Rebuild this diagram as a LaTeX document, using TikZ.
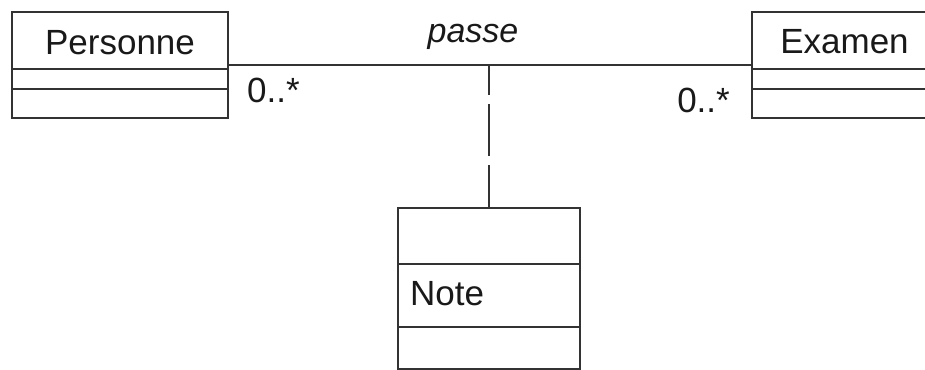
\documentclass[tikz,border=0pt]{standalone}
\usepackage{fontspec}
\setmainfont{Liberation Sans}
\begin{document}
\begin{tikzpicture}[x=1pt,y=-1pt,
  umlline/.style={draw=black!80,line width=1.6pt},
  classbox/.style={umlline,rectangle,inner sep=0pt,fill=white},
  label/.style={inner sep=0pt,text=black!90,font=\fontsize{35}{40}\selectfont},
  linkdash/.style={umlline,dash pattern=on 52pt off 9pt,dash phase=22pt}]
  \useasboundingbox (0,0) rectangle (925,369);
  \clip (0,0) rectangle (925,369);

  % class boxes
  \node[classbox,minimum width=216pt,minimum height=106pt] (personne) at (120,65) {};
  \node[classbox,minimum width=185pt,minimum height=106pt] (examen) at (844.5,65) {};
  \node[classbox,minimum width=182pt,minimum height=161pt,anchor=north] (note) at (489,207) {};

  % compartment dividers
  \draw[umlline] (12,69) -- (228,69) (12,89) -- (228,89);
  \draw[umlline] (752,69) -- (937,69) (752,89) -- (937,89);
  \draw[umlline] (398,264) -- (580,264) (398,327) -- (580,327);

  % class names
  \node[label,anchor=base] (tPersonne) at (120,55) {Personne};
  \node[label,anchor=base] (tExamen) at (844.5,54) {Examen};
  \node[label,anchor=base west] (tNote) at (410,305) {Note};

  % association with its association class
  \draw[umlline] (personne.east) -- (examen.west);
  \coordinate (assoc) at (489,65);
  \draw[linkdash] (assoc) -- (note.north);

  % association name and multiplicities
  \node[label,anchor=base,font=\fontsize{34}{40}\selectfont\itshape] (tPasse) at (473,42) {passe};
  \node[label,anchor=base west] (mLeft) at (247,102) {0..*};
  \node[label,anchor=base east] (mRight) at (730,112) {0..*};
\end{tikzpicture}
\end{document}
